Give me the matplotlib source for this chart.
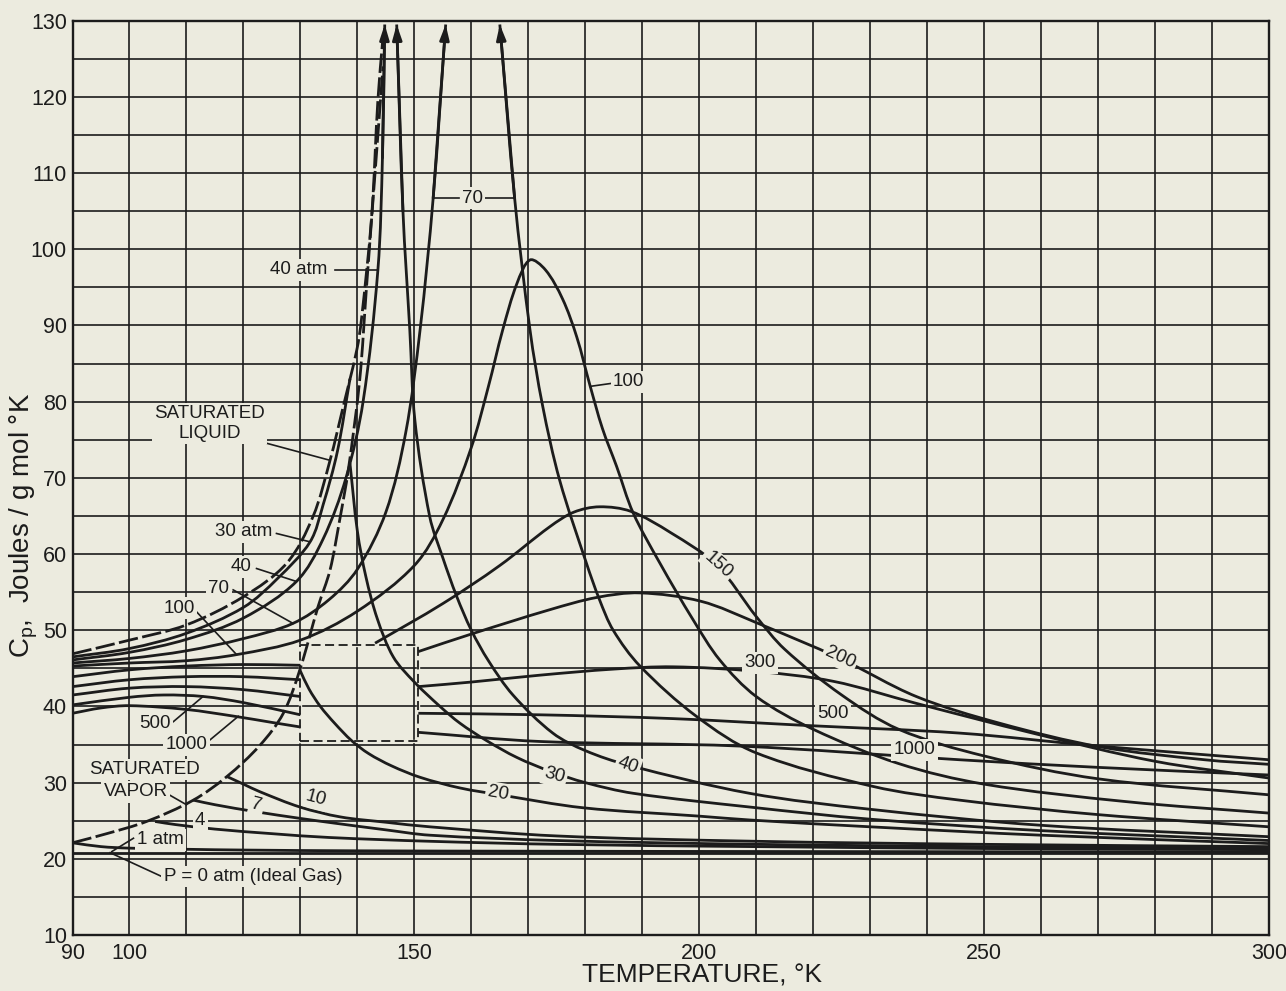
import matplotlib
matplotlib.use('Agg')
import matplotlib.pyplot as plt
from matplotlib.path import Path
from matplotlib.patches import PathPatch

BG = '#ecebdf'
INK = '#1c1c1c'
FONT = ['Liberation Sans', 'DejaVu Sans']

# ---------------- data (T in K, Cp in J/g mol K) ----------------
sat_liq_T = [90, 100, 110, 120, 127.6, 132.2, 135.2, 137.5, 139.9, 140.7, 142.5, 143.6, 144.5]
sat_liq_cp = [46.9, 48.7, 50.7, 54.4, 58.8, 64.9, 72.3, 79.3, 86.8, 90.7, 104.3, 119.6, 127.9]
sat_vap_T = [90, 96, 103, 111.2, 117.1, 122.9, 127, 129.9, 133.1, 135.2, 136.9, 138.4, 140.4, 141.6, 142.8, 143.8, 144.5]
sat_vap_cp = [22.1, 23.3, 24.9, 27.7, 30.8, 34.9, 39.1, 44.8, 53.1, 57.9, 64.5, 71.0, 82.8, 95.0, 107.0, 117.0, 124.0]

# liquid-side isobars (atm)
liq30_T = [90, 100, 110, 120, 126, 131.7, 134, 136.5, 138.7]
liq30_cp = [46.5, 47.6, 49.6, 53.0, 56.8, 61.6, 66.5, 73.5, 83.0]
liq40_T = [90, 100, 110, 120, 129.3, 134, 138, 141, 143.6, 144.4, 144.8]
liq40_cp = [46.1, 47.1, 48.8, 51.6, 56.4, 62.0, 70.0, 80.0, 97.3, 112.0, 129.5]

p70_T = [90, 100, 110, 120, 128.7, 135, 140, 145, 148.5, 151, 153.3, 155.5]
p70_cp = [45.7, 46.3, 47.3, 48.9, 50.9, 54.0, 58.0, 65.5, 76.0, 89.4, 106.7, 129.5]
p70b_T = [165, 167.6, 170.3, 172.5, 175.5, 180.2, 182.5, 184.9, 189.6, 199.5, 210, 230.5, 245.7, 270, 300]
p70b_cp = [129.5, 106.7, 89.4, 79.5, 69.7, 58.8, 54.0, 50.0, 45.3, 38.7, 33.9, 29.5, 27.7, 25.8, 24.2]

p100_T = [90, 100, 110, 118.8, 130, 140, 150, 155, 160, 163, 165.5, 168, 170.3, 173, 176, 178.5, 180.8,
          183, 185.5, 188.4, 193.1, 198.9, 203.6, 210, 220, 235, 250, 275, 300]
p100_cp = [45.3, 45.7, 46.0, 46.8, 48.7, 52.5, 58.5, 64.5, 74.0, 82.0, 89.4, 95.5, 98.6, 97.3, 93.5, 88.5, 82.2,
           76.5, 71.5, 65.4, 58.8, 51.4, 46.1, 41.3, 37.0, 32.5, 29.8, 27.5, 26.0]

p150a_T = [90, 100, 110, 120, 130]
p150a_cp = [43.9, 44.8, 45.3, 45.5, 45.4]
p150b_T = [143.1, 155, 165, 173.8, 178, 182.5, 188, 195, 203, 210, 215, 225, 235, 250, 270, 300]
p150b_cp = [48.3, 53.5, 58.5, 63.6, 65.5, 66.2, 65.6, 62.8, 58.6, 51.8, 47.5, 41.5, 37.0, 33.5, 30.5, 28.4]

p200a_T = [90, 100, 110, 120, 130]
p200a_cp = [42.6, 43.5, 43.9, 43.9, 43.5]
p200b_T = [150.7, 160, 173.8, 182, 189.6, 200.3, 210, 224.7, 238.1, 252.7, 270.3, 288.7, 300]
p200b_cp = [47.2, 49.5, 52.7, 54.3, 54.9, 53.8, 51.0, 46.3, 41.3, 37.8, 34.7, 33.0, 32.4]

p300a_T = [90, 100, 110, 120, 130]
p300a_cp = [41.5, 42.4, 42.6, 42.2, 41.3]
p300b_T = [150.7, 160, 172, 185, 195.4, 210, 223.5, 238.1, 258.5, 280, 300]
p300b_cp = [42.6, 43.2, 44.1, 44.9, 45.2, 44.6, 43.3, 40.4, 36.5, 32.8, 30.6]

p500a_T = [90, 100, 106, 113, 120, 130]
p500a_cp = [40.2, 41.2, 41.5, 41.3, 40.5, 38.9]
p500b_T = [150.7, 172, 195.4, 218.8, 245.7, 270, 300]
p500b_cp = [39.1, 38.9, 38.4, 37.5, 36.5, 34.8, 33.0]

p1000a_T = [90, 95, 100, 110, 118.5, 125, 130]
p1000a_cp = [39.1, 39.8, 40.1, 39.6, 38.7, 37.9, 37.3]
p1000b_T = [150.7, 172, 207, 245.7, 270, 300]
p1000b_cp = [36.6, 35.4, 34.8, 33.0, 32.0, 31.0]

# vapor-side isobars (atm)
vap0_T = [90, 300]
vap0_cp = [20.8, 20.8]
vap1_T = [90, 95, 100, 110, 120, 140, 170, 220, 300]
vap1_cp = [22.1, 21.6, 21.4, 21.25, 21.15, 21.05, 21.0, 20.95, 20.9]
vap4_T = [104.5, 108, 115, 125, 135, 152.7, 175, 210, 250, 300]
vap4_cp = [24.9, 24.5, 23.9, 23.3, 22.8, 22.3, 21.9, 21.6, 21.35, 21.2]
vap7_T = [111.2, 115, 122, 130, 135.8, 145, 152.7, 175, 210, 250, 300]
vap7_cp = [27.7, 27.1, 26.2, 25.3, 24.7, 23.8, 23.1, 22.4, 21.9, 21.6, 21.4]
vap10_T = [117.1, 120, 122.9, 129.9, 137, 145, 152.7, 175, 210, 250, 300]
vap10_cp = [30.8, 29.8, 28.8, 26.8, 25.5, 24.8, 24.2, 23.0, 22.3, 21.9, 21.6]
vap20_T = [129.9, 131.5, 133.5, 136, 139, 142, 146, 151, 158, 165, 179.6, 200, 208.8, 230, 260, 300]
vap20_cp = [44.8, 42.3, 40.0, 37.8, 35.5, 33.8, 32.2, 30.7, 29.3, 28.4, 26.7, 25.6, 25.1, 24.2, 23.1, 22.0]
vap30_T = [138.7, 140, 141.5, 143.5, 146.3, 150, 154.5, 158, 162.7, 168, 173.8, 180, 188.4, 208.8, 230, 260, 300]
vap30_cp = [71.9, 63.0, 57.0, 51.5, 46.5, 43.2, 40.0, 37.8, 35.5, 33.3, 31.5, 30.0, 28.6, 26.8, 25.2, 23.7, 22.4]
vap40_T = [146.9, 148, 149.2, 150.1, 152.7, 155, 157.4, 160, 163, 167.3, 174.3, 180, 187.5, 208.8, 230, 260, 300]
vap40_cp = [129.5, 105.0, 89.4, 77.5, 64.9, 59.5, 54.5, 50.0, 46.0, 41.5, 36.5, 34.2, 32.3, 28.6, 26.5, 24.4, 22.9]

# region without data (dashed box)
box_T = [130, 150.7]
box_cp = [35.5, 48.1]

x_ticks = list(range(90, 301, 10))
x_labels = {90: '90', 100: '100', 150: '150', 200: '200', 250: '250', 300: '300'}
y_ticks = list(range(10, 131, 5))
y_labels = {v: str(v) for v in range(10, 131, 10)}

# ---------------- figure ----------------
W, H = 1286, 991
fig = plt.figure(figsize=(W / 100, H / 100), dpi=100)
fig.patch.set_facecolor(BG)
ax = fig.add_axes([72.5 / W, 1 - 935 / H, (1269 - 72.5) / W, (935 - 20.7) / H])
ax.set_facecolor(BG)
ax.set_xlim(90, 300)
ax.set_ylim(10, 130)
ax.set_xticks(x_ticks)
ax.set_xticklabels([x_labels.get(t, '') for t in x_ticks], fontsize=15.5, family=FONT, color=INK)
ax.set_yticks(y_ticks)
ax.set_yticklabels([y_labels.get(t, '') for t in y_ticks], fontsize=15.5, family=FONT, color=INK)
ax.tick_params(length=0, pad=6)
ax.tick_params(axis='y', pad=4)
ax.grid(True, color=INK, lw=1.2, zorder=0)
ax.set_axisbelow(True)
for s in ax.spines.values():
    s.set_color(INK)
    s.set_linewidth(1.7)

LW = 2.0
SX, SY = 5.7, 7.62   # px per data unit, used only to measure chord lengths


def smooth_path(T, cp):
    pts = list(zip(T, cp))
    n = len(pts)
    if n < 3:
        return Path(pts)
    t = [0.0]
    for i in range(1, n):
        dx = (pts[i][0] - pts[i - 1][0]) * SX
        dy = (pts[i][1] - pts[i - 1][1]) * SY
        t.append(t[-1] + max((dx * dx + dy * dy) ** 0.5, 1e-6))
    m = []
    for i in range(n):
        a = max(i - 1, 0)
        b = min(i + 1, n - 1)
        dt = t[b] - t[a]
        m.append(((pts[b][0] - pts[a][0]) / dt, (pts[b][1] - pts[a][1]) / dt))
    verts = [pts[0]]
    codes = [Path.MOVETO]
    for i in range(n - 1):
        h = (t[i + 1] - t[i]) / 3.0
        c1 = (pts[i][0] + m[i][0] * h, pts[i][1] + m[i][1] * h)
        c2 = (pts[i + 1][0] - m[i + 1][0] * h, pts[i + 1][1] - m[i + 1][1] * h)
        verts += [c1, c2, pts[i + 1]]
        codes += [Path.CURVE4] * 3
    return Path(verts, codes)


def curve(T, cp, ls='-', lw=LW):
    p = PathPatch(smooth_path(T, cp), fill=False, ec=INK, lw=lw, ls=ls,
                  capstyle='butt', joinstyle='round', zorder=3)
    ax.add_patch(p)


def arrow(T, cp, at_start=False):
    if at_start:
        tip, tail = (T[0], cp[0]), (T[1], cp[1])
    else:
        tip, tail = (T[-1], cp[-1]), (T[-2], cp[-2])
    ax.annotate('', xy=tip, xytext=tail,
                arrowprops=dict(arrowstyle='-|>,head_length=0.9,head_width=0.28',
                                color=INK, lw=LW, shrinkA=0, shrinkB=0), zorder=4)


# saturation curves (dashed)
for T, cp in [(sat_liq_T, sat_liq_cp), (sat_vap_T, sat_vap_cp)]:
    curve(T, cp, ls=(0, (7, 1.6)))

for T, cp in [(liq30_T, liq30_cp), (liq40_T, liq40_cp), (p70_T, p70_cp), (p70b_T, p70b_cp),
              (p100_T, p100_cp), (p150a_T, p150a_cp), (p150b_T, p150b_cp),
              (p200a_T, p200a_cp), (p200b_T, p200b_cp), (p300a_T, p300a_cp), (p300b_T, p300b_cp),
              (p500a_T, p500a_cp), (p500b_T, p500b_cp), (p1000a_T, p1000a_cp), (p1000b_T, p1000b_cp),
              (vap0_T, vap0_cp), (vap1_T, vap1_cp), (vap4_T, vap4_cp), (vap7_T, vap7_cp),
              (vap10_T, vap10_cp), (vap20_T, vap20_cp), (vap30_T, vap30_cp), (vap40_T, vap40_cp)]:
    curve(T, cp)

arrow(liq40_T, liq40_cp)
arrow(vap40_T, vap40_cp, at_start=True)
arrow(p70_T, p70_cp)
arrow(p70b_T, p70b_cp, at_start=True)

# dashed box
bx = [box_T[0], box_T[1], box_T[1], box_T[0], box_T[0]]
by = [box_cp[0], box_cp[0], box_cp[1], box_cp[1], box_cp[0]]
ax.plot(bx, by, color=BG, lw=2.4, zorder=2)
ax.plot(bx, by, color=INK, lw=1.3, dashes=(5, 2.5), zorder=2.5)

# ---------------- labels ----------------
bbox = dict(boxstyle='square,pad=0.12', fc=BG, ec='none')


def label(txt, T, cp, rot=0, ha='center', size=13.5):
    ax.text(T, cp, txt, ha=ha, va='center', rotation=rot, rotation_mode='anchor',
            fontsize=size, family=FONT, color=INK, bbox=bbox, zorder=5)


def leader(T1, cp1, T2, cp2):
    ax.plot([T1, T2], [cp1, cp2], color=INK, lw=1.2, zorder=4.5)


label('SATURATED\nLIQUID', 114.1, 77.1)
leader(120.3, 75.3, 135.2, 72.3)
label('40 atm', 129.7, 97.3)
leader(136.0, 97.3, 143.6, 97.3)
leader(153.2, 106.7, 157.9, 106.7)
leader(162.4, 106.7, 167.6, 106.7)
label('70', 160.2, 106.7)
leader(180.8, 82.0, 184.6, 82.4)
label('100', 187.6, 82.6)
label('150', 203.3, 58.6, rot=-42)
label('200', 224.7, 46.4, rot=-25)
label('300', 210.6, 45.7)
label('500', 223.4, 39.1)
label('1000', 237.8, 34.3)
leader(125.8, 62.7, 131.7, 61.6)
label('30 atm', 120.1, 62.9)
leader(122.3, 58.1, 129.3, 56.4)
label('40', 119.6, 58.3)
leader(118.2, 55.3, 128.7, 50.9)
label('70', 115.7, 55.5)
leader(111.8, 52.4, 118.8, 46.8)
label('100', 108.7, 52.9)
leader(107.7, 38.0, 112.9, 41.3)
label('500', 104.5, 37.8)
leader(113.8, 35.4, 119.1, 38.7)
label('1000', 110.0, 34.95)
label('SATURATED', 102.7, 31.7)
label('VAPOR', 101.1, 28.8)
leader(106.5, 28.6, 110.0, 27.1)
label('10', 132.8, 27.9, rot=-15)
label('7', 122.3, 27.0, rot=-15)
label('4', 112.4, 25.0)
leader(100.7, 22.7, 96.9, 20.95)
label('1 atm', 105.4, 22.5)
leader(105.6, 17.7, 96.6, 20.8)
label('P = 0 atm (Ideal Gas)', 106.0, 17.7, ha='left')
label('30', 174.6, 30.9, rot=-15)
label('40', 187.5, 32.3, rot=-20)
label('20', 164.7, 28.6, rot=-10)

fig.text(702 / W, 1 - 975 / H, 'TEMPERATURE, °K', ha='center', va='center',
         fontsize=19, family=FONT, color=INK)
fig.text(24 / W, 1 - 525 / H, r'C$_\mathregular{p}$,  Joules / g mol °K', ha='center', va='center',
         rotation=90, fontsize=20, family=FONT, color=INK)

fig.savefig('out.png', dpi=100, facecolor=BG)
